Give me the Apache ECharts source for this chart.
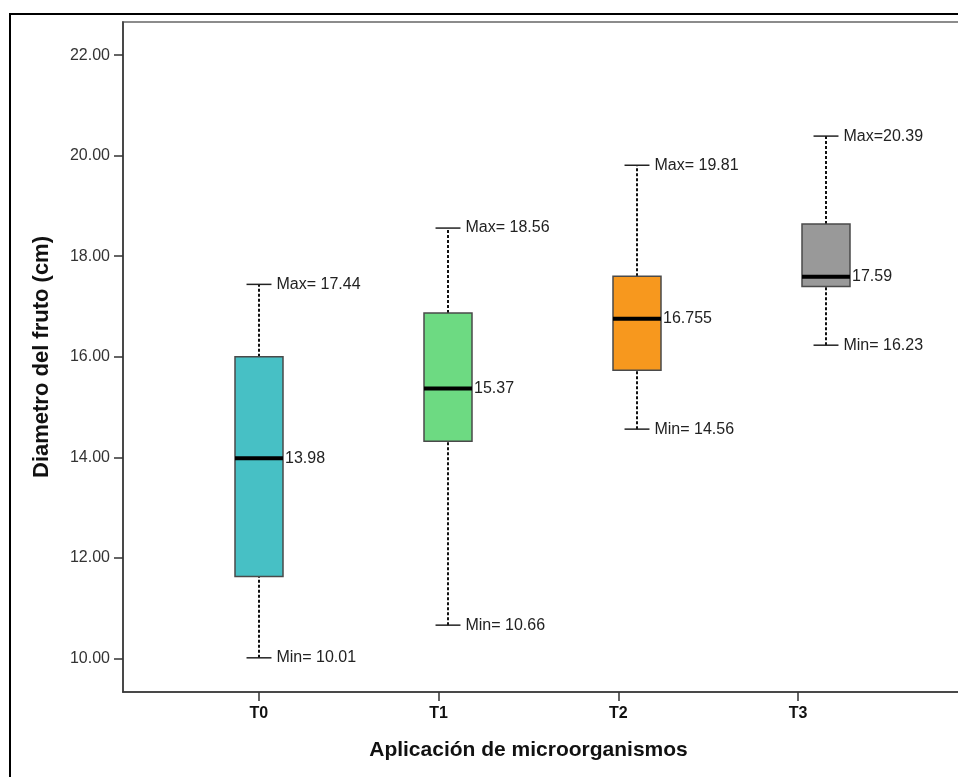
<!DOCTYPE html>
<html>
<head>
<meta charset="utf-8">
<script src="https://cdn.jsdelivr.net/npm/echarts@6/dist/echarts.min.js"></script>
<style>html,body{margin:0;padding:0;background:#fff}#c{width:958px;height:777px}</style>
</head>
<body>
<div id="c"></div>
<script>
// ---- data ----
const categories = ['T0', 'T1', 'T2', 'T3'];
const mins    = [10.01, 10.66, 14.56, 16.23];
const q1s     = [11.63, 14.32, 15.73, 17.40];
const medians = [13.98, 15.37, 16.755, 17.59];
const q3s     = [16.00, 16.87, 17.60, 18.64];
const maxs    = [17.44, 18.56, 19.81, 20.39];
const maxLabels = ['Max= 17.44', 'Max= 18.56', 'Max= 19.81', 'Max=20.39'];
const minLabels = ['Min= 10.01', 'Min= 10.66', 'Min= 14.56', 'Min= 16.23'];
const medianLabels = ['13.98', '15.37', '16.755', '17.59'];
const yTicks = [10, 12, 14, 16, 18, 20, 22];
const boxColors = ['#47C0C5', '#6DDA82', '#F7981E', '#999999'];

const Y_MIN = 9.33, Y_MAX = 22.66;
const FONT = '"Liberation Sans", Arial, sans-serif';

const seriesData = categories.map((c, i) => [i, mins[i], q1s[i], medians[i], q3s[i], maxs[i]]);

const chart = echarts.init(document.getElementById('c'), null, {renderer: 'canvas'});

function renderItem(params, api) {
  const i = api.value(0);
  const pMin = api.coord([i, api.value(1)]);
  const pQ1 = api.coord([i, api.value(2)]);
  const pMed = api.coord([i, api.value(3)]);
  const pQ3 = api.coord([i, api.value(4)]);
  const pMax = api.coord([i, api.value(5)]);
  const band = api.size([1, 0])[0];
  const bw = band * 0.254;
  const cw = band * 0.066;
  const x = pMin[0];
  const dash = {stroke: '#111', lineWidth: 2, lineDash: [3, 2]};
  const txt = (tx, ty, s) => ({
    type: 'text',
    style: {x: tx, y: ty, text: s, fill: '#222', font: '16px ' + FONT, align: 'left', verticalAlign: 'middle'}
  });
  return {
    type: 'group',
    children: [
      {type: 'line', shape: {x1: x, y1: pMin[1], x2: x, y2: pQ1[1]}, style: dash},
      {type: 'line', shape: {x1: x, y1: pQ3[1], x2: x, y2: pMax[1]}, style: dash},
      {type: 'line', shape: {x1: x - cw, y1: pMin[1], x2: x + cw, y2: pMin[1]}, style: {stroke: '#222', lineWidth: 1.5}},
      {type: 'line', shape: {x1: x - cw, y1: pMax[1], x2: x + cw, y2: pMax[1]}, style: {stroke: '#222', lineWidth: 1.5}},
      {type: 'rect', shape: {x: x - bw / 2, y: pQ3[1], width: bw, height: pQ1[1] - pQ3[1]},
        style: {fill: boxColors[i], stroke: '#4a4a4a', lineWidth: 1.5}},
      {type: 'line', shape: {x1: x - bw / 2, y1: pMed[1], x2: x + bw / 2, y2: pMed[1]}, style: {stroke: '#000', lineWidth: 4}},
      txt(x + cw + 5, pMax[1], maxLabels[i]),
      txt(x + cw + 5, pMin[1], minLabels[i]),
      txt(x + bw / 2 + 2, pMed[1], medianLabels[i])
    ]
  };
}

const option = {
  animation: false,
  backgroundColor: '#fff',
  textStyle: {fontFamily: FONT},
  graphic: [{
    type: 'rect', z: 100, silent: true,
    shape: {x: 10, y: 14, width: 1000, height: 800},
    style: {fill: 'none', stroke: '#000', lineWidth: 2}
  }],
  grid: [
    // frame grid
    {left: 123, top: 22, width: 1000, bottom: 85, outerBoundsMode: 'none', containLabel: false,
      show: true, borderColor: '#8c8c8c', borderWidth: 2, backgroundColor: '#fff'},
    // box grid
    {left: 164.5, top: 22, width: 756, bottom: 85, outerBoundsMode: 'none'},
    // tick grid
    {left: 169, top: 22, width: 719, bottom: 85, outerBoundsMode: 'none'}
  ],
  xAxis: [
    {gridIndex: 0, type: 'value', min: 0, max: 1,
      axisLine: {show: true, onZero: false, lineStyle: {color: '#333', width: 1.5}},
      axisTick: {show: false}, axisLabel: {show: false}, splitLine: {show: false}},
    {gridIndex: 1, type: 'category', data: categories, boundaryGap: true,
      axisLine: {show: false}, axisTick: {show: false}, axisLabel: {show: false}, splitLine: {show: false}},
    {gridIndex: 2, type: 'category', data: categories, boundaryGap: true,
      axisLine: {show: false},
      axisTick: {show: true, alignWithLabel: true, length: 9, lineStyle: {color: '#333', width: 1.5}},
      axisLabel: {show: true, margin: 14, color: '#111', fontWeight: 'bold', fontSize: 16, fontFamily: FONT},
      name: 'Aplicación de microorganismos', nameLocation: 'middle', nameGap: 48,
      nameTextStyle: {color: '#111', fontWeight: 'bold', fontSize: 21, fontFamily: FONT},
      splitLine: {show: false}}
  ],
  yAxis: [
    {gridIndex: 0, type: 'value', min: Y_MIN, max: Y_MAX,
      axisLine: {show: true, lineStyle: {color: '#333', width: 1.5}},
      axisTick: {show: true, length: 9, customValues: yTicks, lineStyle: {color: '#333', width: 1.5}},
      axisLabel: {show: true, margin: 13, customValues: yTicks, color: '#333', fontSize: 16, fontFamily: FONT,
        formatter: v => Number(v).toFixed(2)},
      splitLine: {show: false},
      name: 'Diametro del fruto (cm)', nameLocation: 'middle', nameGap: 70,
      nameTextStyle: {color: '#111', fontWeight: 'bold', fontSize: 22, fontFamily: FONT}},
    {gridIndex: 1, type: 'value', min: Y_MIN, max: Y_MAX, show: false, splitLine: {show: false}},
    {gridIndex: 2, type: 'value', min: Y_MIN, max: Y_MAX, show: false, splitLine: {show: false}}
  ],
  series: [{
    type: 'custom',
    xAxisIndex: 1, yAxisIndex: 1,
    data: seriesData,
    encode: {x: 0, y: [1, 2, 3, 4, 5]},
    renderItem: renderItem,
    clip: false,
    z: 10
  }]
};
chart.setOption(option);
</script>
</body>
</html>
